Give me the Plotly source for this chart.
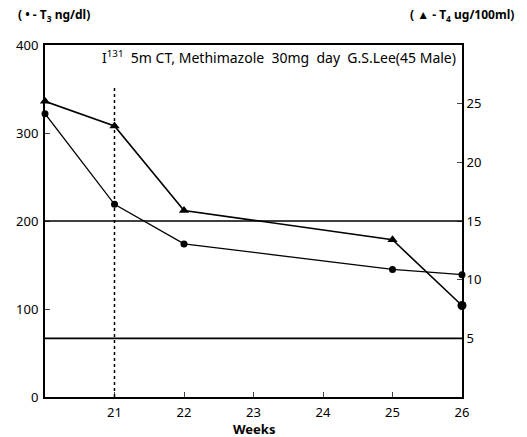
import plotly.graph_objects as go

weeks = [20, 21, 22, 25, 26]
t3_values = [322, 219, 174, 145, 139]
t4_values = [25.2, 23.1, 15.9, 13.4, 7.8]
x_ticks = [21, 22, 23, 24, 25, 26]
y_left_ticks = [0, 100, 200, 300, 400]
y_right_ticks = [5, 10, 15, 20, 25]
ref_lines_t4 = [5, 15]
treatment_week = 21

FONT = "Noto Sans"
fig = go.Figure()
fig.add_trace(go.Scatter(x=weeks, y=t3_values, mode="lines+markers",
                         line=dict(color="black", width=1.3),
                         marker=dict(symbol="circle", size=7, color="black"),
                         cliponaxis=False, showlegend=False))
fig.add_trace(go.Scatter(x=weeks, y=t4_values, mode="lines+markers", yaxis="y2",
                         line=dict(color="black", width=1.6),
                         marker=dict(symbol=["triangle-up"] * 4 + ["circle"], size=9, color="black"),
                         cliponaxis=False, showlegend=False))

for v in ref_lines_t4:
    fig.add_shape(type="line", xref="paper", x0=0, x1=1, yref="y2", y0=v, y1=v,
                  line=dict(color="black", width=1.6))
fig.add_shape(type="line", xref="x", x0=treatment_week, x1=treatment_week,
              yref="y", y0=0, y1=352, line=dict(color="black", width=1.5, dash="dot"))

fig.update_layout(
    width=527, height=437,
    margin=dict(l=45, r=65, t=45, b=40, autoexpand=False),
    paper_bgcolor="white", plot_bgcolor="white",
    font=dict(family=FONT, color="black", size=13),
    xaxis=dict(range=[20, 26], tickvals=x_ticks, ticks="inside", ticklen=5,
               showgrid=False, zeroline=False, showline=True, linecolor="black",
               linewidth=2, mirror=True, ticklabelstandoff=2, automargin=False),
    yaxis=dict(range=[0, 400], tickvals=y_left_ticks, ticks="inside", ticklen=5,
               showgrid=False, zeroline=False, showline=True, linecolor="black",
               linewidth=2, mirror=True, ticklabelstandoff=2, automargin=False),
    yaxis2=dict(range=[0, 30], tickvals=y_right_ticks, ticks="inside", ticklen=5,
                overlaying="y", side="right", showgrid=False, zeroline=False,
                showline=True, linecolor="black", linewidth=2, automargin=False),
)

fig.add_annotation(x=0.5, y=-0.092, xref="paper", yref="paper", xanchor="center", yanchor="middle",
                   showarrow=False, text="<b>Weeks</b>", font=dict(size=13))
fig.add_annotation(x=0.56, y=1.0, xref="paper", yref="paper", xanchor="center", yanchor="top",
                   showarrow=False,
                   text="I<sup>131</sup>  5m CT, Methimazole  30mg  day  G.S.Lee(45 Male)",
                   font=dict(size=14))
fig.add_annotation(x=-0.07, y=1.055, xref="paper", yref="paper", xanchor="left", yanchor="bottom",
                   showarrow=False, text="<b>( • - T<sub>3</sub> ng/dl)</b>", font=dict(size=12))
fig.add_annotation(x=1.13, y=1.055, xref="paper", yref="paper", xanchor="right", yanchor="bottom",
                   showarrow=False, text="<b>( ▲ - T<sub>4</sub> ug/100ml)</b>", font=dict(size=12))

fig.write_html("out.html")
